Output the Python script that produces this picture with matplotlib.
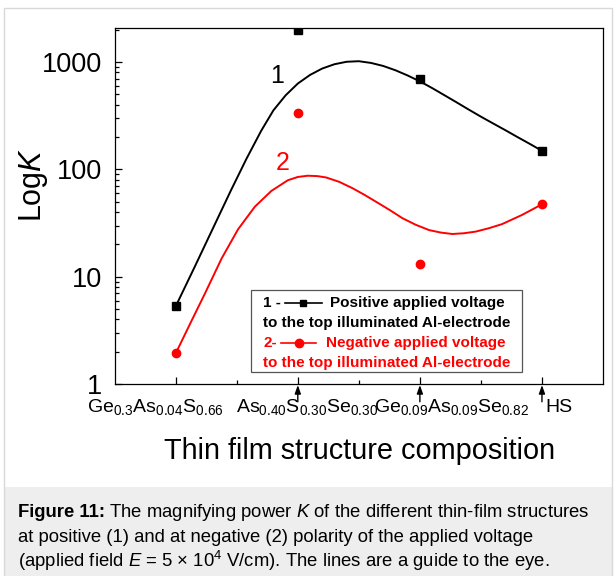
import matplotlib
matplotlib.use("Agg")
import matplotlib.pyplot as plt
from matplotlib.patches import Rectangle
from matplotlib.ticker import FixedLocator, NullFormatter, LogLocator

plt.rcParams['font.family'] = ['Liberation Sans', 'DejaVu Sans']
plt.rcParams['mathtext.fontset'] = 'custom'
plt.rcParams['mathtext.rm'] = 'Liberation Sans'
plt.rcParams['mathtext.it'] = 'Liberation Sans:italic'
plt.rcParams['mathtext.bf'] = 'Liberation Sans:bold'

# measured points
structures = [r"Ge$_{0.3}$As$_{0.04}$S$_{0.66}$",
              r"As$_{0.40}$S$_{0.30}$Se$_{0.30}$",
              r"Ge$_{0.09}$As$_{0.09}$Se$_{0.82}$",
              "HS"]
positions = [1, 2, 3, 4]
positive = [5.3, 1980, 700, 149]
negative = [1.93, 333, 13.1, 47.3]

# guide-to-the-eye curves
guide_pos_x = [1.0, 1.15, 1.3, 1.45, 1.58, 1.7, 1.8, 1.9, 2.0, 2.1,
               2.2, 2.3, 2.4, 2.5, 2.6, 2.7, 2.8, 2.9, 3.0, 3.1,
               3.2, 3.3, 3.4, 3.5, 3.6, 3.7, 3.8, 3.9, 4.0]
guide_pos_y = [5.3, 12.0, 27.5, 63, 126, 229, 355, 490, 631, 759,
               871, 955, 1007, 1019, 982, 920, 839, 750, 661, 573,
               492, 422, 361, 310, 268, 232, 200, 173, 149]
guide_neg_x = [1.0, 1.117, 1.24, 1.376, 1.511, 1.648, 1.784, 1.919, 2.0, 2.082,
               2.16, 2.232, 2.34, 2.449, 2.545, 2.64, 2.75, 2.857, 2.965, 3.075,
               3.17, 3.265, 3.36, 3.456, 3.565, 3.673, 3.836, 4.0]
guide_neg_y = [1.93, 3.63, 7.0, 14.8, 27.7, 44.9, 63.1, 79.3, 85.0, 87.3,
               86.6, 84.1, 76.5, 66.7, 58.0, 50.0, 42.0, 35.1, 30.5, 27.2,
               25.8, 25.0, 25.4, 26.3, 28.3, 30.9, 37.6, 47.3]

fig = plt.figure(figsize=(6.16, 5.76), dpi=100)

# page frame + caption background
fig.patches.append(Rectangle((4/616, 0), 608/616, 89/576, transform=fig.transFigure,
                             facecolor='#eeeeee', edgecolor='none', zorder=0))
fig.patches.append(Rectangle((4/616, -0.01), 608/616, (568/576) + 0.01, transform=fig.transFigure,
                             facecolor='none', edgecolor='#d9d9d9', lw=1.0, zorder=1))

ax = fig.add_axes([114.7/616, 192/576, 488.3/616, 355.7/576])

ax.plot(guide_pos_x, guide_pos_y, color='black', lw=1.4)
ax.plot(guide_neg_x, guide_neg_y, color='red', lw=1.4)
ax.plot(positions, positive, 's', color='black', ms=6)
ax.plot(positions, negative, 'o', color='red', ms=6)

ax.set_yscale('log')
ax.set_ylim(1, 2065)
ax.set_xlim(0.5, 4.5)

ax.xaxis.set_major_locator(FixedLocator(positions))
ax.xaxis.set_minor_locator(FixedLocator([1.5, 2.5, 3.5]))
ax.xaxis.set_major_formatter(NullFormatter())
ax.yaxis.set_major_locator(FixedLocator([1, 10, 100, 1000]))
ax.yaxis.set_minor_locator(LogLocator(base=10, subs=range(2, 10)))
ax.yaxis.set_minor_formatter(NullFormatter())
ax.set_yticklabels(['1', '10', '100', '1000'])
ax.tick_params(axis='both', which='both', direction='in', width=0.9)
ax.tick_params(axis='both', which='major', length=5)
ax.tick_params(axis='both', which='minor', length=3)
ax.tick_params(axis='y', which='major', labelsize=19.5, pad=9)
for sp in ax.spines.values():
    sp.set_linewidth(0.9)

# composition labels below the axis, with arrows pointing up at the ticks
label_offsets = [-0.728, -0.509, -0.374, 0.03]
for pos, name, off in zip(positions, structures, label_offsets):
    ax.text(pos + off, -0.078, name, transform=ax.get_xaxis_transform(),
            ha='left', va='baseline', fontsize=14, clip_on=False)
for pos in positions[1:]:
    ax.annotate('', xy=(pos, -0.003), xytext=(pos, -0.05),
                xycoords=('data', 'axes fraction'), textcoords=('data', 'axes fraction'),
                arrowprops=dict(arrowstyle='-|>,head_length=0.5,head_width=0.18',
                                color='black', lw=1.0, shrinkA=0, shrinkB=0))

ax.text(0.501, -0.211, 'Thin film structure composition', transform=ax.transAxes,
        ha='center', va='baseline', fontsize=20.8)
ax.text(-0.167, 0.559, r'Log$K$', transform=ax.transAxes, rotation=90,
        ha='center', va='center', fontsize=22)

ax.text(1.831, 745, '1', fontsize=18, color='black', ha='center', va='center')
ax.text(1.876, 114, '2', fontsize=18, color='red', ha='center', va='center')

# legend box
ax.add_patch(Rectangle((0.280, 0.0346), 0.554, 0.2294, transform=ax.transAxes,
                       facecolor='white', edgecolor='#555555', lw=0.9, zorder=5))
lg = dict(transform=ax.transAxes, fontsize=11, fontweight='bold', va='center', ha='left', zorder=6)
ax.text(0.3043, 0.2269, '1 -', color='black', **lg)
ax.plot([0.3486, 0.4249], [0.2269, 0.2269], color='black', lw=1.2, transform=ax.transAxes,
        clip_on=False, zorder=6)
ax.plot([0.3862], [0.2269], 's', color='black', ms=5, transform=ax.transAxes, clip_on=False, zorder=6)
ax.text(0.4409, 0.2269, 'Positive applied voltage', color='black', **lg)
ax.text(0.3043, 0.1707, 'to the top illuminated Al-electrode', color='black', **lg)
ax.text(0.3043, 0.1161, '2-', color='red', **lg)
ax.plot([0.3406, 0.4122], [0.1161, 0.1161], color='red', lw=1.2, transform=ax.transAxes,
        clip_on=False, zorder=6)
ax.plot([0.3766], [0.1161], 'o', color='red', ms=6, transform=ax.transAxes, clip_on=False, zorder=6)
ax.text(0.4327, 0.1161, 'Negative applied voltage', color='red', **lg)
ax.text(0.3043, 0.0599, 'to the top illuminated Al-electrode', color='red', **lg)

# caption
cap = dict(fontsize=13.3, ha='left', va='baseline', transform=fig.transFigure)
renderer = fig.canvas.get_renderer()
head = fig.text(17.7/616, (576-517.3)/576, 'Figure 11:', fontweight='bold', **cap)
hx = head.get_window_extent(renderer).x1
fig.text((hx + 4)/616, (576-517.3)/576,
         r'The magnifying power $K$ of the different thin-film structures', **cap)
fig.text(17.7/616, (576-542.5)/576,
         'at positive (1) and at negative (2) polarity of the applied voltage', **cap)
fig.text(17.7/616, (576-566.7)/576,
         r'(applied field $E$ = 5 × 10$^{4}$ V/cm). The lines are a guide to the eye.', **cap)

fig.savefig('out.png', dpi=100)
